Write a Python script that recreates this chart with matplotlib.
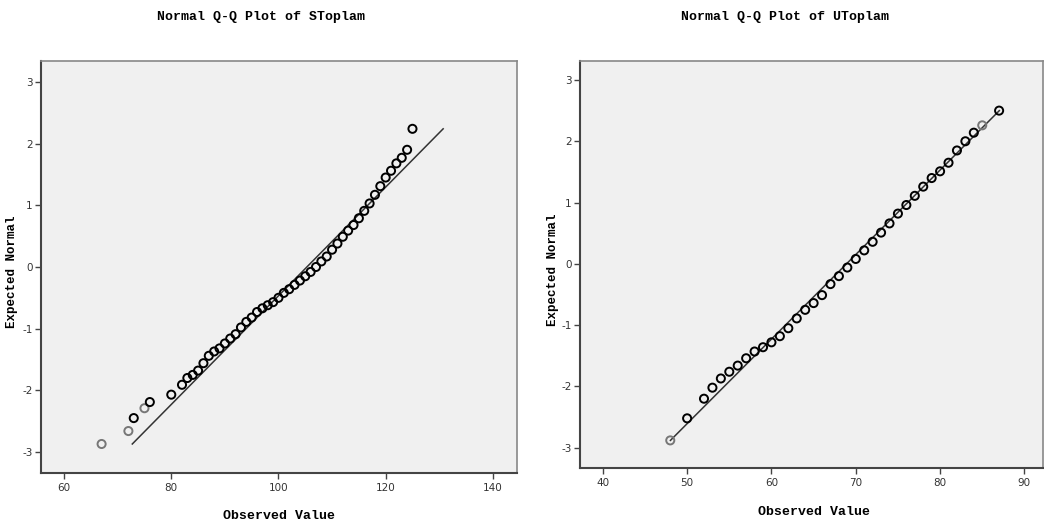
import numpy as np
import matplotlib
matplotlib.use("Agg")
import matplotlib.pyplot as plt

plt.rcParams["axes.unicode_minus"] = False

# SToplam: observed values and expected normal scores
s_obs = [67, 72, 73, 75, 76, 80, 82, 83, 84, 85, 86, 87, 88, 89, 90, 91, 92, 93,
         94, 95, 96, 97, 98, 99, 100, 101, 102, 103, 104, 105, 106, 107, 108, 109,
         110, 111, 112, 113, 114, 115, 116, 117, 118, 119, 120, 121, 122, 123, 124, 125]
s_exp = [-2.87, -2.66, -2.45, -2.29, -2.19, -2.07, -1.91, -1.80, -1.75, -1.68, -1.56,
         -1.44, -1.37, -1.32, -1.24, -1.16, -1.09, -0.98, -0.89, -0.82, -0.73, -0.67,
         -0.62, -0.57, -0.50, -0.42, -0.36, -0.29, -0.22, -0.15, -0.08, 0.00, 0.09,
         0.17, 0.28, 0.38, 0.49, 0.59, 0.68, 0.79, 0.91, 1.03, 1.17, 1.31, 1.45, 1.56,
         1.68, 1.77, 1.90, 2.24]
s_grey = [67, 72, 75]
s_mean, s_sd = 105.3, 11.35

# UToplam
u_obs = [48, 50, 52, 53, 54, 55, 56, 57, 58, 59, 60, 61, 62, 63, 64, 65, 66, 67,
         68, 69, 70, 71, 72, 73, 74, 75, 76, 77, 78, 79, 80, 81, 82, 83, 84, 85, 87]
u_exp = [-2.88, -2.52, -2.20, -2.02, -1.87, -1.76, -1.66, -1.54, -1.43, -1.36, -1.28,
         -1.18, -1.05, -0.89, -0.75, -0.64, -0.51, -0.33, -0.20, -0.06, 0.08, 0.22,
         0.36, 0.51, 0.66, 0.82, 0.96, 1.11, 1.26, 1.40, 1.51, 1.65, 1.85, 2.00, 2.14,
         2.26, 2.50]
u_grey = [48, 85]
u_mean, u_sd = 68.9, 7.25

mono = ["Liberation Mono", "DejaVu Sans Mono"]

fig = plt.figure(figsize=(10.44, 5.27), dpi=100)


def qq_panel(rect, obs, exp, grey, mean, sd, xlim, ylim, xticks):
    ax = fig.add_axes(rect)
    ax.set_facecolor("#f0f0f0")
    z = np.array([min(exp), max(exp)])
    ax.plot(mean + sd * z, z, color="#333333", lw=1.1, zorder=2)
    colors = ["#777777" if v in grey else "black" for v in obs]
    ax.scatter(obs, exp, s=34, facecolors="none", edgecolors=colors,
               linewidths=1.4, zorder=3)
    ax.set_xlim(*xlim)
    ax.set_ylim(*ylim)
    ax.set_xticks(xticks)
    ax.set_yticks([-3, -2, -1, 0, 1, 2, 3])
    ax.tick_params(direction="out", length=4, width=1, colors="#444444",
                   labelsize=7.5, labelcolor="#333333")
    ax.tick_params(axis="y", pad=2)
    for side in ["left", "bottom"]:
        ax.spines[side].set_color("#444444")
        ax.spines[side].set_linewidth(1.5)
    for side in ["top", "right"]:
        ax.spines[side].set_color("#888888")
        ax.spines[side].set_linewidth(1.2)
    return ax


qq_panel([0.0393, 0.1025, 0.4559, 0.7818], s_obs, s_exp, s_grey, s_mean, s_sd,
         (55.7, 144.5), (-3.34, 3.34), [60, 80, 100, 120, 140])
qq_panel([0.5556, 0.112, 0.4434, 0.7723], u_obs, u_exp, u_grey, u_mean, u_sd,
         (37.3, 92.2), (-3.33, 3.31), [40, 50, 60, 70, 80, 90])

fig.text(261 / 1044, 1 - 17 / 527, "Normal Q-Q Plot of SToplam", ha="center",
         va="center", family=mono, fontsize=9.5, fontweight="bold")
fig.text(785 / 1044, 1 - 17 / 527, "Normal Q-Q Plot of UToplam", ha="center",
         va="center", family=mono, fontsize=9.5, fontweight="bold")
fig.text(279 / 1044, 1 - 516 / 527, "Observed Value", ha="center", va="center",
         family=mono, fontsize=9.5, fontweight="bold")
fig.text(814 / 1044, 1 - 512 / 527, "Observed Value", ha="center", va="center",
         family=mono, fontsize=9.5, fontweight="bold")
fig.text(12 / 1044, 1 - 272 / 527, "Expected Normal", ha="center", va="center",
         rotation=90, family=mono, fontsize=9, fontweight="bold")
fig.text(553 / 1044, 1 - 270 / 527, "Expected Normal", ha="center", va="center",
         rotation=90, family=mono, fontsize=9, fontweight="bold")

fig.savefig("out.png", dpi=100)
